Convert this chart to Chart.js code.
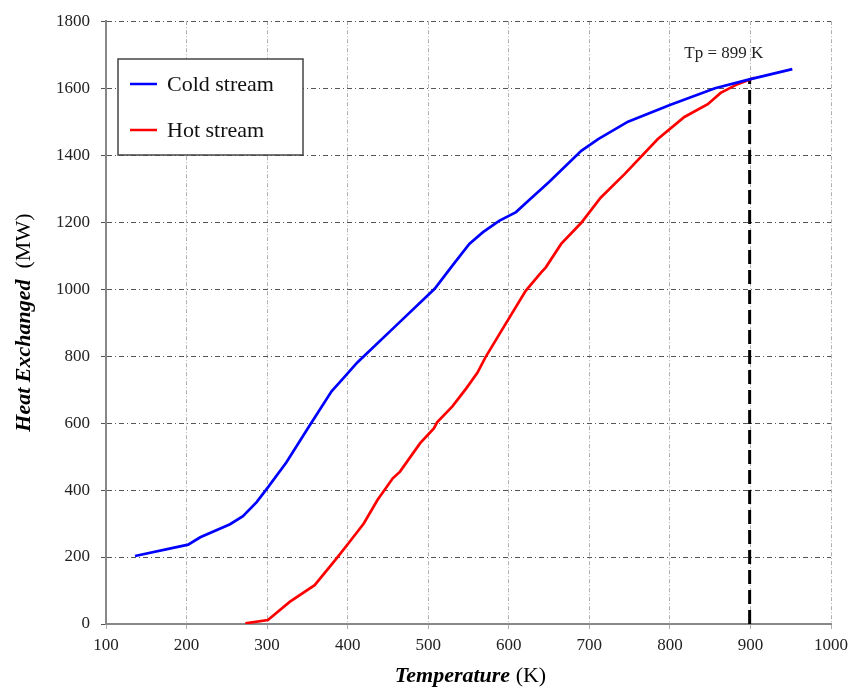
<!DOCTYPE html>
<html>
<head>
<meta charset="utf-8">
<script src="https://cdn.jsdelivr.net/npm/chart.js@4.4.1/dist/chart.umd.min.js"></script>
<style>
  html, body { margin: 0; padding: 0; background: #fff; }
  #wrap { width: 854px; height: 688px; }
</style>
</head>
<body>
<div id="wrap"><canvas id="grafica"></canvas></div>
<script>
// datos
const coldT = [136, 202, 217, 254, 270, 287, 301, 324, 352, 380, 395, 412, 460, 508, 530, 551, 568, 588, 609, 625, 650, 690, 711, 748, 800, 856, 900, 952];
const coldQ = [203, 237, 259, 298, 322, 364, 408, 483, 590, 695, 735, 781, 891, 1001, 1070, 1135, 1170, 1204, 1230, 1265, 1320, 1413, 1448, 1500, 1550, 1600, 1627, 1657];

const hotT = [273, 301, 328, 359, 386, 402, 420, 437, 456, 465, 490, 507, 511, 530, 547, 561, 571, 591, 621, 640, 646, 665, 690, 714, 744, 785, 818, 847, 863, 884, 905];
const hotQ = [2, 12, 66, 116, 195, 244, 300, 370, 435, 455, 540, 584, 602, 650, 703, 750, 796, 876, 995, 1049, 1065, 1135, 1198, 1273, 1344, 1448, 1514, 1552, 1586, 1612, 1631];

const pinchT = 899;
const pinchQ = [0, 1627];
const labels = ['Cold stream', 'Hot stream'];
const colores = ['#0000ff', '#ff0000'];

const serif = '"Liberation Serif", "DejaVu Serif", serif';

function puntos(xs, ys) {
  return xs.map((x, i) => ({ x: x, y: ys[i] }));
}

// leyenda, titulos y texto del pinch dibujados a mano
const extras = {
  id: 'extras',
  afterDraw(chart) {
    const ctx = chart.ctx;
    const area = chart.chartArea;
    const sx = chart.scales.x, sy = chart.scales.y;
    ctx.save();

    // texto Tp
    ctx.fillStyle = '#222';
    ctx.font = '17px ' + serif;
    ctx.textAlign = 'center';
    ctx.textBaseline = 'middle';
    ctx.fillText('Tp = ' + pinchT + ' K', sx.getPixelForValue(867), sy.getPixelForValue(1702));

    // leyenda
    const lx = 118, ly = 59, lw = 185, lh = 96;
    ctx.fillStyle = '#fff';
    ctx.fillRect(lx, ly, lw, lh);
    ctx.strokeStyle = '#444';
    ctx.lineWidth = 1.5;
    ctx.strokeRect(lx, ly, lw, lh);
    ctx.font = '22px ' + serif;
    ctx.textAlign = 'left';
    labels.forEach((lab, i) => {
      const yy = 84 + i * 46;
      ctx.strokeStyle = colores[i];
      ctx.lineWidth = 2.5;
      ctx.beginPath();
      ctx.moveTo(130, yy);
      ctx.lineTo(157, yy);
      ctx.stroke();
      ctx.fillStyle = '#111';
      ctx.fillText(lab, 167, yy + 1);
    });

    // titulo eje x
    const bold = 'italic bold 22px ' + serif;
    const reg = '22px ' + serif;
    ctx.font = bold;
    const t1 = 'Temperature';
    const w1 = ctx.measureText(t1).width;
    ctx.font = reg;
    const t2 = ' (K)';
    const w2 = ctx.measureText(t2).width;
    let x0 = (area.left + area.right) / 2 - (w1 + w2) / 2 + 2;
    ctx.fillStyle = '#000';
    ctx.font = bold;
    ctx.fillText(t1, x0, 676);
    ctx.font = reg;
    ctx.fillText(t2, x0 + w1, 676);

    // titulo eje y
    ctx.translate(24, (area.top + area.bottom) / 2);
    ctx.rotate(-Math.PI / 2);
    ctx.font = bold;
    const y1 = 'Heat Exchanged';
    const wy1 = ctx.measureText(y1).width;
    ctx.font = reg;
    const y2 = '  (MW)';
    const wy2 = ctx.measureText(y2).width;
    let y0 = -(wy1 + wy2) / 2;
    ctx.font = bold;
    ctx.fillText(y1, y0, 0);
    ctx.font = reg;
    ctx.fillText(y2, y0 + wy1, 0);

    ctx.restore();
  }
};

const grafica = new Chart(document.getElementById('grafica'), {
  type: 'line',
  data: {
    datasets: [
      {
        label: labels[0],
        data: puntos(coldT, coldQ),
        borderColor: colores[0],
        borderWidth: 2.7,
        pointRadius: 0,
        tension: 0
      },
      {
        label: labels[1],
        data: puntos(hotT, hotQ),
        borderColor: colores[1],
        borderWidth: 2.7,
        pointRadius: 0,
        tension: 0
      },
      {
        label: 'Tp',
        data: puntos([pinchT, pinchT], pinchQ),
        borderColor: '#000',
        borderWidth: 3,
        borderDash: [14, 6],
        pointRadius: 0
      }
    ]
  },
  options: {
    responsive: true,
    maintainAspectRatio: false,
    animation: false,
    layout: { padding: { left: 0, top: 19, right: 11, bottom: 0 } },
    plugins: {
      legend: { display: false },
      tooltip: { enabled: false }
    },
    scales: {
      x: {
        type: 'linear',
        min: 100,
        max: 1000,
        ticks: {
          stepSize: 100, color: '#222', font: { family: serif, size: 17 }, padding: 6,
          callback: (v) => String(v)
        },
        grid: { color: '#b0b0b0', tickLength: 5, lineWidth: 1 },
        border: { color: '#888', width: 2, dash: [4, 2, 1, 2] },
        afterFit(s) { s.height = 64; }
      },
      y: {
        type: 'linear',
        min: 0,
        max: 1800,
        ticks: {
          stepSize: 200, color: '#222', font: { family: serif, size: 17 }, padding: 11,
          callback: (v) => String(v)
        },
        grid: { color: '#555', tickLength: 5, lineWidth: 1 },
        border: { color: '#888', width: 2, dash: [5, 3, 1, 3] },
        afterFit(s) { s.width = 106; }
      }
    }
  },
  plugins: [extras]
});
</script>
</body>
</html>
